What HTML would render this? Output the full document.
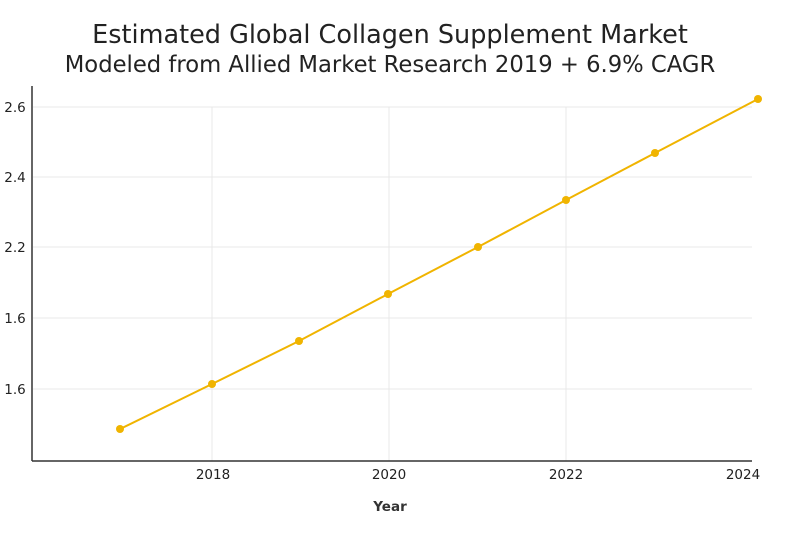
<!DOCTYPE html>
<html><head><style>body{margin:0;background:#fff}svg{display:block}</style></head><body>
<svg width="800" height="555" xmlns="http://www.w3.org/2000/svg" font-family="'DejaVu Sans','Liberation Sans',sans-serif">
<text x="390" y="43" text-anchor="middle" font-size="25.5" fill="#222">Estimated Global Collagen Supplement Market</text>
<text x="390" y="72" text-anchor="middle" font-size="22.7" fill="#222">Modeled from Allied Market Research 2019 + 6.9% CAGR</text>
<g stroke="#e8e8e8" stroke-width="1">
<line x1="33" y1="107" x2="752" y2="107"/><line x1="33" y1="177" x2="752" y2="177"/><line x1="33" y1="247" x2="752" y2="247"/><line x1="33" y1="318" x2="752" y2="318"/><line x1="33" y1="389" x2="752" y2="389"/>
<line x1="212" y1="107" x2="212" y2="461"/><line x1="389" y1="107" x2="389" y2="461"/><line x1="566" y1="107" x2="566" y2="461"/>
</g>
<g stroke="#333" stroke-width="1.5"><line x1="32" y1="86" x2="32" y2="461"/><line x1="32" y1="461" x2="752" y2="461"/></g>
<g font-size="13.5" fill="#222" text-anchor="middle">
<text x="15" y="112">2.6</text><text x="15" y="182">2.4</text><text x="15" y="252">2.2</text><text x="15" y="323">1.6</text><text x="15" y="394">1.6</text>
<text x="213" y="479">2018</text><text x="389" y="479">2020</text><text x="566" y="479">2022</text><text x="743" y="479">2024</text>
<text x="390" y="511" font-size="13.5" font-weight="bold" fill="#333">Year</text>
</g>
<polyline fill="none" stroke="#f0b400" stroke-width="2" points="120,429 212,384 299,341 388,294 478,247 566,200 655,153 758,99"/>
<g fill="#f0b400"><circle cx="120" cy="429" r="4"/><circle cx="212" cy="384" r="4"/><circle cx="299" cy="341" r="4"/><circle cx="388" cy="294" r="4"/><circle cx="478" cy="247" r="4"/><circle cx="566" cy="200" r="4"/><circle cx="655" cy="153" r="4"/><circle cx="758" cy="99" r="4"/></g>
</svg>
</body></html>
